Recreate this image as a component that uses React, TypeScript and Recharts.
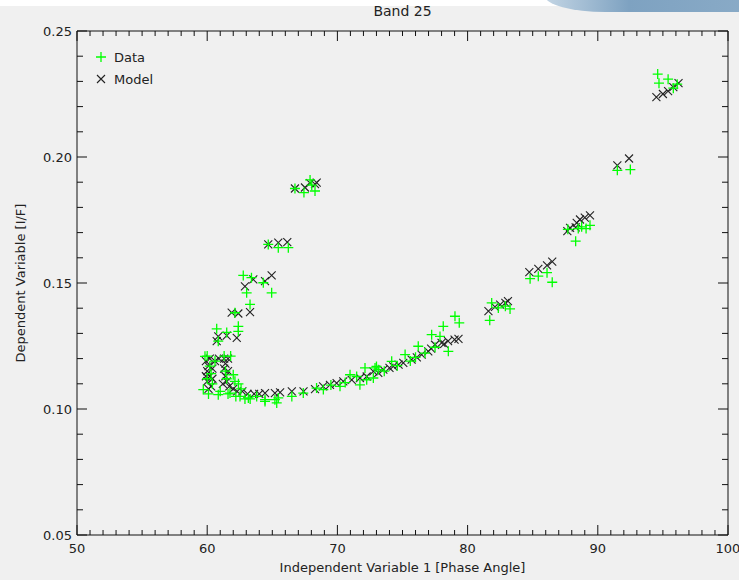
import React from "react";
import {
  ScatterChart,
  Scatter,
  XAxis,
  YAxis,
  Legend,
} from "recharts";

// Observed I/F values (green +)
const dataX = [
  94.6, 94.7, 95.4, 95.8, 96.1,
  91.5, 92.5,
  87.7, 88.3, 88.5, 88.76, 89.1, 89.4,
  84.8, 85.43, 86.1, 86.5,
  81.7, 81.85, 82.36, 82.9, 83.26,
  79.03, 79.36, 78.13, 77.24, 77.88, 78.52, 76.21, 75.2, 76.73, 74.17, 73.0, 72.76,
  64.44, 65.2, 65.46, 66.5, 67.38, 68.4, 68.92, 70.2, 70.97, 71.48, 72.12, 72.89, 73.14, 72.25, 71.73,
  69.5, 70.6, 73.6, 74.6, 75.6, 76.0, 77.5,
  66.74, 67.43, 67.9, 68.28, 68.03,
  64.69, 65.46, 66.23,
  62.77, 63.4, 63.03, 64.31, 64.95, 63.29, 62.13, 60.73, 61.5, 62.39, 60.85, 62.39,
  59.83, 59.7, 60.85, 62.0, 61.75, 62.52, 63.16, 64.44, 65.34, 62.13,
  60.0, 60.1, 60.3, 60.6, 60.2, 60.0, 60.4, 61.3, 61.8, 61.4, 61.5, 62.4, 61.6, 62.2, 62.9, 63.3, 63.8, 61.0, 62.6,
];
const dataY = [
  0.2329, 0.2293, 0.2309, 0.2273, 0.2289,
  0.1947, 0.195,
  0.1713, 0.1666, 0.1716, 0.1723, 0.1716, 0.1729,
  0.1517, 0.1527, 0.1541, 0.1503,
  0.1352, 0.1421, 0.1401, 0.1408, 0.1397,
  0.1368, 0.1342, 0.1328, 0.1295, 0.1288, 0.1229, 0.1249, 0.1216, 0.1222, 0.1189, 0.1169, 0.1123,
  0.1037, 0.1037, 0.1044, 0.105, 0.1063, 0.1083, 0.1077, 0.109, 0.1136, 0.1129, 0.1163, 0.1163, 0.1156, 0.1116, 0.1096,
  0.1095, 0.1105, 0.115, 0.1172, 0.119, 0.1205, 0.1245,
  0.1875, 0.1859, 0.1909, 0.1865, 0.1888,
  0.1653, 0.164, 0.164,
  0.153, 0.1521, 0.1461, 0.1501, 0.1461, 0.1415, 0.1382, 0.1318, 0.1304, 0.1328, 0.1269, 0.1308,
  0.1209, 0.1077, 0.1057, 0.1136, 0.1063, 0.105, 0.1044, 0.103, 0.1024, 0.111,
  0.121, 0.106, 0.114, 0.119, 0.117, 0.112, 0.11, 0.121, 0.121, 0.115, 0.112, 0.11, 0.106, 0.105, 0.104, 0.104, 0.105, 0.107, 0.108,
];

// Model I/F values (black x)
const modelX = [
  94.5, 95.0, 95.4, 95.8, 96.2,
  91.5, 92.4,
  87.66, 87.87, 88.38, 88.63, 89.0, 89.4, 88.3,
  84.74, 85.43, 86.1, 86.5,
  81.6, 82.1, 82.5, 82.9, 83.1,
  72.76, 73.53, 74.29, 75.06, 75.7, 76.47, 76.98, 77.5, 78.0, 78.5, 79.0, 79.3,
  64.44, 65.2, 65.6, 66.5, 67.4, 68.28, 68.9, 69.43, 69.94, 70.45, 71.1, 71.73, 72.25, 73.14,
  74.0, 74.7, 76.1, 77.2, 78.2,
  66.74, 67.51, 67.9, 68.28, 68.41,
  64.69, 65.46, 66.15,
  62.9, 63.54, 64.44, 64.95, 61.88, 62.39, 63.29, 60.85, 61.5, 62.27, 60.73,
  59.9, 60.1, 60.0, 60.2, 60.0, 60.3, 60.1, 60.4, 60.4, 60.6, 59.9, 60.2,
  61.3, 61.6, 61.4, 61.3, 61.4, 61.5, 61.7, 62.0, 62.3, 62.7, 63.1, 63.6, 64.0, 61.6, 60.9, 61.2,
];
const modelY = [
  0.2238, 0.225, 0.2261, 0.2277, 0.2293,
  0.1967, 0.1994,
  0.1706, 0.1719, 0.1739, 0.1752, 0.1759, 0.1768, 0.1721,
  0.1543, 0.1556, 0.157, 0.1585,
  0.1388, 0.1405, 0.1414, 0.1421, 0.1428,
  0.1149, 0.1156, 0.1169, 0.1183, 0.1196, 0.1216, 0.1229, 0.1255, 0.1262, 0.1269, 0.1275, 0.1278,
  0.1063, 0.1063, 0.1066, 0.107, 0.107, 0.1079, 0.109, 0.1096, 0.1103, 0.111, 0.1116, 0.1123, 0.1129, 0.1143,
  0.1163, 0.1176, 0.1205, 0.124, 0.1258,
  0.1875, 0.1879, 0.1896, 0.1892, 0.1898,
  0.1653, 0.166, 0.1662,
  0.1487, 0.1514, 0.1507, 0.153, 0.1382, 0.1379, 0.1384, 0.1288, 0.1291, 0.1282, 0.1269,
  0.119, 0.117, 0.115, 0.113, 0.111, 0.109, 0.108, 0.116, 0.112, 0.119, 0.113, 0.12,
  0.12, 0.12, 0.118, 0.116, 0.113, 0.111, 0.109, 0.108, 0.107, 0.107, 0.106, 0.106, 0.106, 0.115, 0.12, 0.11,
];

// axis ticks: majors are labelled, the rest are minor marks
const xMajor = [50, 60, 70, 80, 90, 100];
const yMajor = [0.05, 0.1, 0.15, 0.2, 0.25];
const xTicks = Array.from({ length: 51 }, (_, i) => 50 + i);
const yTicks = Array.from({ length: 21 }, (_, i) => Math.round((0.05 + i * 0.01) * 100) / 100);

const dataPoints = dataX.map((x, i) => ({ x, y: dataY[i] }));
const modelPoints = modelX.map((x, i) => ({ x, y: modelY[i] }));

const FONT = "'DejaVu Sans', sans-serif";
const AXIS = "#111";

const isXMajor = (v: number) => xMajor.includes(v);
const isYMajor = (v: number) => yMajor.some((m) => Math.abs(m - v) < 1e-6);

const BottomTick = ({ x, y, payload }: any) => {
  const major = isXMajor(payload.value);
  return (
    <g>
      <line x1={x} y1={y} x2={x} y2={y - (major ? 10 : 5)} stroke={AXIS} />
      {major && (
        <text x={x} y={y + 18} textAnchor="middle" fontSize={13} fontFamily={FONT} fill="#222">
          {payload.value}
        </text>
      )}
    </g>
  );
};

const TopTick = ({ x, y, payload }: any) => {
  const major = isXMajor(payload.value);
  return <line x1={x} y1={y} x2={x} y2={y + (major ? 10 : 5)} stroke={AXIS} />;
};

const LeftTick = ({ x, y, payload }: any) => {
  const major = isYMajor(payload.value);
  return (
    <g>
      <line x1={x} y1={y} x2={x + (major ? 10 : 6)} y2={y} stroke={AXIS} />
      {major && (
        <text x={x - 5} y={y + 5} textAnchor="end" fontSize={13} fontFamily={FONT} fill="#222">
          {payload.value.toFixed(2)}
        </text>
      )}
    </g>
  );
};

const RightTick = ({ x, y, payload }: any) => {
  const major = isYMajor(payload.value);
  return <line x1={x} y1={y} x2={x - (major ? 10 : 6)} y2={y} stroke={AXIS} />;
};

const PlusMark = (props: any) => {
  const { cx, cy } = props;
  return (
    <path
      d={`M${cx - 5},${cy}H${cx + 5}M${cx},${cy - 5}V${cy + 5}`}
      stroke="#00ff00"
      strokeWidth={1.3}
      fill="none"
    />
  );
};

const CrossMark = (props: any) => {
  const { cx, cy } = props;
  return (
    <path
      d={`M${cx - 4},${cy - 4}L${cx + 4},${cy + 4}M${cx - 4},${cy + 4}L${cx + 4},${cy - 4}`}
      stroke="#222"
      strokeWidth={1.1}
      fill="none"
    />
  );
};

const NoMark = () => <g />;

const LegendBox = () => (
  <div style={{ fontFamily: FONT, fontSize: 13, color: "#222" }}>
    <div style={{ display: "flex", alignItems: "center", height: 22 }}>
      <svg width={14} height={14} style={{ marginRight: 6 }}>
        <PlusMark cx={7} cy={7} />
      </svg>
      Data
    </div>
    <div style={{ display: "flex", alignItems: "center", height: 22 }}>
      <svg width={14} height={14} style={{ marginRight: 6 }}>
        <CrossMark cx={7} cy={7} />
      </svg>
      Model
    </div>
  </div>
);

export default function App() {
  return (
    <div
      style={{
        position: "fixed",
        left: 0,
        top: 0,
        width: 739,
        height: 580,
        background: "#f0f0f0",
        overflow: "hidden",
      }}
    >
      <div style={{ position: "absolute", left: 0, top: 0, width: 739, height: 6, background: "#fff" }} />
      <div
        style={{
          position: "absolute",
          left: 545,
          top: -4,
          width: 210,
          height: 16,
          background: "linear-gradient(to right, #c3d5e4, #7ea2c1 40%, #8aabc7)",
          borderBottomLeftRadius: "60px 16px",
        }}
      />
      <ScatterChart
        width={739}
        height={580}
        margin={{ top: 30, right: 10, bottom: 5, left: 17 }}
      >
        <XAxis
          dataKey="x"
          type="number"
          domain={[50, 100]}
          ticks={xTicks}
          interval={0}
          tickSize={0}
          tickMargin={0}
          tick={BottomTick}
          axisLine={{ stroke: AXIS }}
          height={40}
          allowDataOverflow
          label={{
            value: "Independent Variable 1 [Phase Angle]",
            position: "insideBottom",
            offset: 3,
            fontSize: 13,
            fontFamily: FONT,
            fill: "#222",
          }}
        />
        <XAxis
          xAxisId="top"
          orientation="top"
          dataKey="x"
          type="number"
          domain={[50, 100]}
          ticks={xTicks}
          interval={0}
          tickSize={0}
          tickMargin={0}
          tick={TopTick}
          axisLine={{ stroke: AXIS }}
          height={1}
          allowDataOverflow
          label={{
            value: "Band 25",
            position: "top",
            offset: 14,
            fontSize: 14,
            fontFamily: FONT,
            fill: "#222",
          }}
        />
        <YAxis
          dataKey="y"
          type="number"
          domain={[0.05, 0.25]}
          ticks={yTicks}
          interval={0}
          tickSize={0}
          tickMargin={0}
          tick={LeftTick}
          axisLine={{ stroke: AXIS }}
          width={60}
          allowDataOverflow
          label={{
            value: "Dependent Variable [I/F]",
            angle: -90,
            position: "insideLeft",
            offset: 3,
            fontSize: 13,
            fontFamily: FONT,
            fill: "#222",
            style: { textAnchor: "middle" },
          }}
        />
        <YAxis
          yAxisId="right"
          orientation="right"
          dataKey="y"
          type="number"
          domain={[0.05, 0.25]}
          ticks={yTicks}
          interval={0}
          tickSize={0}
          tickMargin={0}
          tick={RightTick}
          axisLine={{ stroke: AXIS }}
          width={1}
          allowDataOverflow
        />
        <Legend
          layout="horizontal"
          verticalAlign="middle"
          align="center"
          content={LegendBox}
          wrapperStyle={{ left: 94, top: 46, width: 100, height: 46 }}
        />
        {/* invisible series so the top and right frame axes are drawn */}
        <Scatter
          xAxisId="top"
          yAxisId="right"
          data={dataPoints}
          shape={NoMark}
          legendType="none"
          isAnimationActive={false}
        />
        <Scatter
          name="Model"
          data={modelPoints}
          shape={CrossMark}
          isAnimationActive={false}
        />
        <Scatter
          name="Data"
          data={dataPoints}
          shape={PlusMark}
          isAnimationActive={false}
        />
      </ScatterChart>
    </div>
  );
}
